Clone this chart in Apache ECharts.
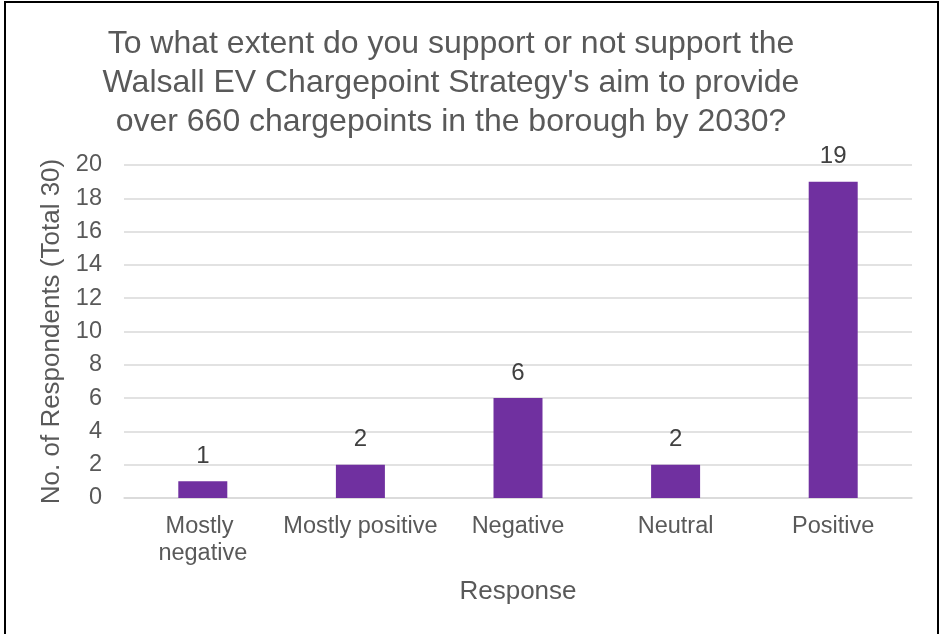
<!DOCTYPE html>
<html>
<head>
<meta charset="utf-8">
<style>
  html, body { margin: 0; padding: 0; background: #fff; }
  #wrap { position: absolute; left: 0; top: 0; width: 942px; height: 634px; }
  #frame { position: absolute; left: 4px; top: 1px; width: 935px; height: 640px; border: 2px solid #000; box-sizing: border-box; pointer-events: none; }
  #chart { position: absolute; left: 0; top: 0; width: 942px; height: 634px; }
</style>
<script src="https://cdn.jsdelivr.net/npm/echarts@6/dist/echarts.min.js"></script>
</head>
<body>
<div id="wrap">
  <div id="chart"></div>
  <div id="frame"></div>
</div>
<script>
const titleText = "To what extent do you support or not support the\nWalsall EV Chargepoint Strategy's aim to provide\nover 660 chargepoints in the borough by 2030?";
const categories = ["Mostly negative", "Mostly positive", "Negative", "Neutral", "Positive"];
const counts = [1, 2, 6, 2, 19];
const yTicks = { min: 0, max: 20, interval: 2 };
const xAxisName = "Response";
const yAxisName = "No. of Respondents (Total 30)";

const font = "'Liberation Sans', Arial, sans-serif";
const chart = echarts.init(document.getElementById('chart'), null, { renderer: 'canvas' });
chart.setOption({
  backgroundColor: 'transparent',
  animation: false,
  title: {
    text: titleText,
    left: 451,
    top: 25,
    textAlign: 'center',
    padding: 0,
    textStyle: { fontFamily: font, fontSize: 32, fontWeight: 'normal', color: '#595959', lineHeight: 39, align: 'center' }
  },
  grid: { left: 124, right: 30, top: 165, bottom: 136, containLabel: false },
  xAxis: {
    type: 'category',
    data: categories,
    name: xAxisName,
    nameLocation: 'middle',
    nameGap: 81,
    nameTextStyle: { fontFamily: font, fontSize: 26, color: '#595959' },
    axisLine: { show: true, lineStyle: { color: '#d9d9d9', width: 1.5 } },
    axisTick: { show: false },
    axisLabel: { fontFamily: font, fontSize: 23.5, color: '#595959', margin: 15, lineHeight: 27, width: 157, overflow: 'break', interval: 0 }
  },
  yAxis: {
    type: 'value',
    min: yTicks.min, max: yTicks.max, interval: yTicks.interval,
    name: yAxisName,
    nameLocation: 'middle',
    nameGap: 57,
    nameTextStyle: { fontFamily: font, fontSize: 26, color: '#595959' },
    axisLine: { show: false },
    axisTick: { show: false },
    axisLabel: { fontFamily: font, fontSize: 23.5, color: '#595959', margin: 22 },
    splitLine: { lineStyle: { color: '#d9d9d9', width: 1.5 } }
  },
  series: [{
    type: 'bar',
    data: counts,
    barWidth: 49,
    itemStyle: { color: '#7030A0' },
    label: { show: true, position: 'top', distance: 13, fontFamily: font, fontSize: 24, lineHeight: 24, color: '#404040' }
  }]
});
</script>
</body>
</html>
